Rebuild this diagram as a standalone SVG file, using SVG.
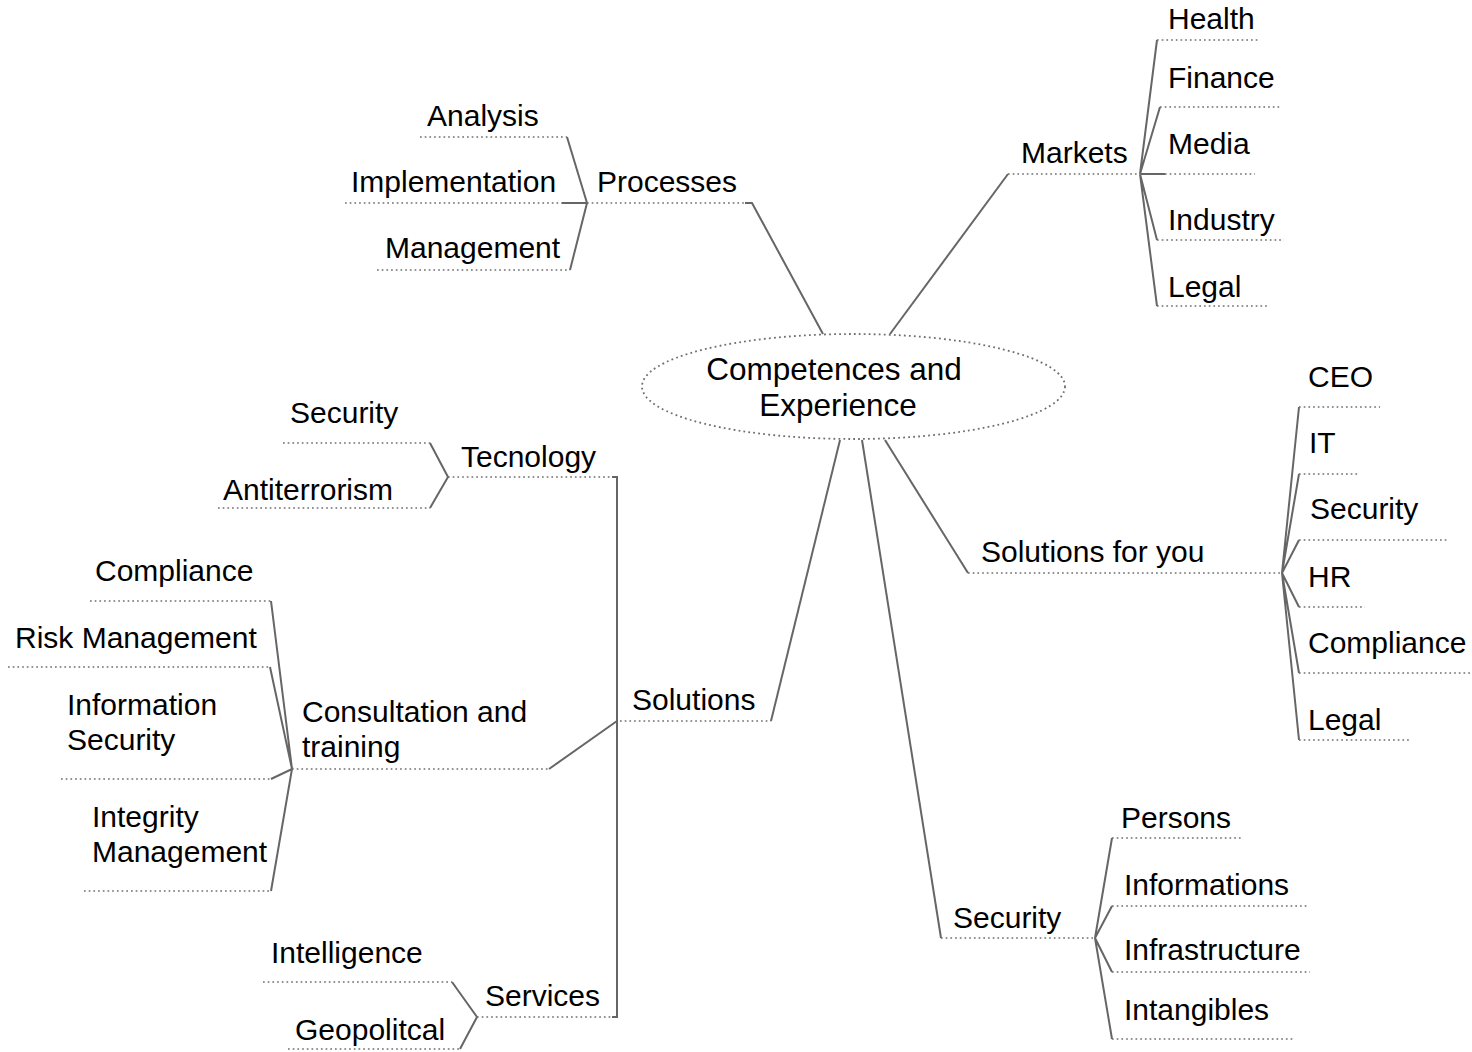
<svg xmlns="http://www.w3.org/2000/svg" width="1472" height="1052" viewBox="0 0 1472 1052">
<style>
text{font-family:"Liberation Sans",Arial,sans-serif;font-size:30px;fill:#000}
.c{font-size:31.5px;text-anchor:middle}
.u{stroke:#6f6f6f;stroke-width:1.7;stroke-dasharray:1.7 3;fill:none}
.l{stroke:#666;stroke-width:2;fill:none;stroke-linejoin:miter}
</style>
<rect width="1472" height="1052" fill="#fff"/>
<g id="connectors">
<path class="l" d="M745 203H752L823 334"/>
<path class="l" d="M890 334L1008 174"/>
<path class="l" d="M885 440L968 573"/>
<path class="l" d="M862 440L941 938"/>
<path class="l" d="M840 440L771 721"/>
<path class="l" d="M1157 40L1140 174L1160 107M1140 174H1165M1157 240L1140 174L1157 306"/>
<path class="l" d="M567 137L587 203L570 270M562 203H587"/>
<path class="l" d="M1299 407L1282 573L1299 474M1299 540L1282 573L1299 607M1299 673L1282 573L1299 740"/>
<path class="l" d="M1112 838L1095 938L1112 906M1112 972L1095 938L1112 1039"/>
<path class="l" d="M430 443L448 477L430 508"/>
<path class="l" d="M271 601L292 769L270 667M271 779L292 769L271 891"/>
<path class="l" d="M549 769L617 721"/>
<path class="l" d="M452 982L477 1017L460 1049"/>
<path class="l" d="M612 477H617V1017H612"/>
</g>
<g id="center">
<ellipse cx="853.5" cy="386.5" rx="211.5" ry="52.5" fill="none" stroke="#6f6f6f" stroke-width="1.8" stroke-dasharray="1.8 3.2"/>
<text class="c" x="834" y="380">Competences and</text>
<text class="c" x="838" y="416">Experience</text>
</g>
<g id="processes"><path class="u" d="M587 203H745"/><text x="597" y="192">Processes</text></g>
<g id="analysis"><path class="u" d="M420 137H567"/><text x="427" y="126">Analysis</text></g>
<g id="implementation"><path class="u" d="M345 203H562"/><text x="351" y="192">Implementation</text></g>
<g id="management"><path class="u" d="M377 270H570"/><text x="385" y="258">Management</text></g>
<g id="markets"><path class="u" d="M1008 174H1137"/><text x="1021" y="163">Markets</text></g>
<g id="health"><path class="u" d="M1157 40H1258"/><text x="1168" y="29">Health</text></g>
<g id="finance"><path class="u" d="M1160 107H1281"/><text x="1168" y="88">Finance</text></g>
<g id="media"><path class="u" d="M1165 174H1255"/><text x="1168" y="154">Media</text></g>
<g id="industry"><path class="u" d="M1157 240H1284"/><text x="1168" y="230">Industry</text></g>
<g id="legal-markets"><path class="u" d="M1157 306H1268"/><text x="1168" y="297">Legal</text></g>
<g id="solutions-for-you"><path class="u" d="M968 573H1280"/><text x="981" y="562">Solutions for you</text></g>
<g id="ceo"><path class="u" d="M1299 407H1380"/><text x="1308" y="387">CEO</text></g>
<g id="it"><path class="u" d="M1299 474H1360"/><text x="1309" y="453">IT</text></g>
<g id="security-sfy"><path class="u" d="M1299 540H1447"/><text x="1310" y="519">Security</text></g>
<g id="hr"><path class="u" d="M1299 607H1365"/><text x="1308" y="587">HR</text></g>
<g id="compliance-sfy"><path class="u" d="M1299 673H1472"/><text x="1308" y="653">Compliance</text></g>
<g id="legal-sfy"><path class="u" d="M1299 740H1410"/><text x="1308" y="730">Legal</text></g>
<g id="security"><path class="u" d="M941 938H1093"/><text x="953" y="928">Security</text></g>
<g id="persons"><path class="u" d="M1112 838H1243"/><text x="1121" y="828">Persons</text></g>
<g id="informations"><path class="u" d="M1112 906H1308"/><text x="1124" y="895">Informations</text></g>
<g id="infrastructure"><path class="u" d="M1112 972H1310"/><text x="1124" y="960">Infrastructure</text></g>
<g id="intangibles"><path class="u" d="M1112 1039H1295"/><text x="1124" y="1020">Intangibles</text></g>
<g id="solutions"><path class="u" d="M620 721H771"/><text x="632" y="710">Solutions</text></g>
<g id="tecnology"><path class="u" d="M448 477H612"/><text x="461" y="467">Tecnology</text></g>
<g id="security-tech"><path class="u" d="M283 443H430"/><text x="290" y="423">Security</text></g>
<g id="antiterrorism"><path class="u" d="M218 508H430"/><text x="223" y="500">Antiterrorism</text></g>
<g id="consultation"><path class="u" d="M292 769H549"/><text x="302" y="722">Consultation and</text><text x="302" y="757">training</text></g>
<g id="compliance"><path class="u" d="M90 601H271"/><text x="95" y="581">Compliance</text></g>
<g id="risk-management"><path class="u" d="M8 667H270"/><text x="15" y="648">Risk Management</text></g>
<g id="information-security"><path class="u" d="M61 779H271"/><text x="67" y="715">Information</text><text x="67" y="750">Security</text></g>
<g id="integrity-management"><path class="u" d="M84 891H271"/><text x="92" y="827">Integrity</text><text x="92" y="862">Management</text></g>
<g id="services"><path class="u" d="M477 1017H612"/><text x="485" y="1006">Services</text></g>
<g id="intelligence"><path class="u" d="M263 982H452"/><text x="271" y="963">Intelligence</text></g>
<g id="geopolitcal"><path class="u" d="M288 1049H460"/><text x="295" y="1040">Geopolitcal</text></g>
</svg>
